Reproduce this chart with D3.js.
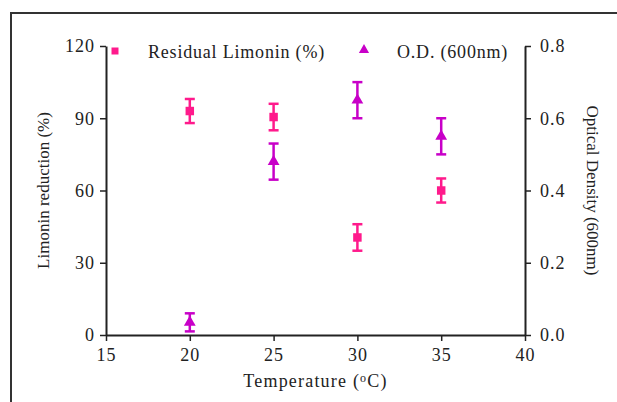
<!DOCTYPE html>
<html>
<head>
<meta charset="utf-8">
<script src="https://cdn.jsdelivr.net/npm/d3@7"></script>
<style>
  body { margin: 0; background: #fff; }
  svg text { font-family: "Liberation Serif", "Times New Roman", serif; fill: #222; }
</style>
</head>
<body>
<div id="chart"></div>
<script>
// temperatures (x) and the two series
const temps = [20, 25, 30, 35];
const limonin = [93, 90.5, 40.5, 60];
const limoninErr = [5, 5.5, 5.5, 5];
const od = [0.035, 0.48, 0.65, 0.55];
const odErr = [0.025, 0.05, 0.05, 0.05];

const xTicks = [15, 20, 25, 30, 35, 40];
const leftTicks = [0, 30, 60, 90, 120];
const rightTicks = [0, 0.2, 0.4, 0.6, 0.8];

const width = 617, height = 402;
const margin = { top: 46, right: 92, bottom: 67, left: 106 };
const pink = '#ff1a8c', purple = '#c800c8';

const svg = d3.select('#chart').append('svg')
  .attr('width', width)
  .attr('height', height);

// outer frame (runs past the right/bottom edge)
svg.append('rect')
  .attr('x', 11).attr('y', 13)
  .attr('width', 700).attr('height', 500)
  .attr('fill', 'none')
  .attr('stroke', '#333')
  .attr('stroke-width', 2);

const x = d3.scaleLinear().domain([15, 40]).range([margin.left, width - margin.right]);
const yL = d3.scaleLinear().domain([0, 120]).range([height - margin.bottom, margin.top]);
const yR = d3.scaleLinear().domain([0, 0.8]).range([height - margin.bottom, margin.top]);

function styleAxis(g) {
  g.attr('font-family', null);
  g.select('.domain').attr('stroke', '#222').attr('stroke-width', 2);
  g.selectAll('.tick line').attr('stroke', '#222').attr('stroke-width', 1.5);
  g.selectAll('.tick text')
    .attr('font-size', '18px')
    .attr('letter-spacing', '1px')
    .attr('fill', '#222');
}

svg.append('g')
  .attr('transform', `translate(0,${height - margin.bottom})`)
  .call(d3.axisBottom(x).tickValues(xTicks).tickSize(6).tickSizeOuter(0).tickPadding(7))
  .call(styleAxis);

svg.append('g')
  .attr('transform', `translate(${margin.left},0)`)
  .call(d3.axisLeft(yL).tickValues(leftTicks).tickSize(6).tickSizeOuter(0).tickPadding(5))
  .call(styleAxis);

svg.append('g')
  .attr('transform', `translate(${width - margin.right},0)`)
  .call(d3.axisRight(yR).tickValues(rightTicks).tickFormat(d3.format('.1f'))
    .tickSize(6).tickSizeOuter(0).tickPadding(9))
  .call(styleAxis);

// error bars
function errorBars(vals, errs, y, color) {
  const g = svg.append('g').attr('stroke', color).attr('stroke-width', 2.5);
  temps.forEach((t, i) => {
    const cx = x(t);
    const top = y(vals[i] + errs[i]), bot = y(vals[i] - errs[i]);
    g.append('line').attr('x1', cx).attr('x2', cx).attr('y1', top).attr('y2', bot);
    g.append('line').attr('x1', cx - 5).attr('x2', cx + 5).attr('y1', top).attr('y2', top);
    g.append('line').attr('x1', cx - 5).attr('x2', cx + 5).attr('y1', bot).attr('y2', bot);
  });
}
errorBars(limonin, limoninErr, yL, pink);
errorBars(od, odErr, yR, purple);

const square = d3.symbol().type(d3.symbolSquare).size(72);
const triangle = d3.symbol().type(d3.symbolTriangle).size(60);

svg.append('g').selectAll('path')
  .data(temps)
  .join('path')
  .attr('d', square)
  .attr('transform', (d, i) => `translate(${x(d)},${yL(limonin[i])})`)
  .attr('fill', pink);

svg.append('g').selectAll('path')
  .data(temps)
  .join('path')
  .attr('d', triangle)
  .attr('transform', (d, i) => `translate(${x(d)},${yR(od[i])})`)
  .attr('fill', purple);

// legend
const legend = svg.append('g');
legend.append('path').attr('d', d3.symbol().type(d3.symbolSquare).size(49))
  .attr('transform', 'translate(115,51)').attr('fill', pink);
legend.append('text').attr('x', 148).attr('y', 58)
  .attr('font-size', '18px').attr('letter-spacing', '0.8px')
  .text('Residual Limonin (%)');
legend.append('path').attr('d', d3.symbol().type(d3.symbolTriangle).size(45))
  .attr('transform', 'translate(364,50)').attr('fill', purple);
legend.append('text').attr('x', 397).attr('y', 58)
  .attr('font-size', '18px').attr('letter-spacing', '0.8px')
  .text('O.D. (600nm)');

// axis titles
const xTitle = svg.append('text')
  .attr('x', (x(15) + x(40)) / 2).attr('y', 387)
  .attr('text-anchor', 'middle')
  .attr('font-size', '18px').attr('letter-spacing', '1.2px');
xTitle.append('tspan').text('Temperature (');
xTitle.append('tspan').attr('font-size', '12px').attr('baseline-shift', '45%').text('o');
xTitle.append('tspan').text('C)');

svg.append('text')
  .attr('transform', `translate(49,${(yL(0) + yL(120)) / 2}) rotate(-90)`)
  .attr('text-anchor', 'middle')
  .attr('font-size', '17px')
  .text('Limonin reduction (%)');

svg.append('text')
  .attr('transform', `translate(587,${(yR(0) + yR(0.8)) / 2}) rotate(90)`)
  .attr('text-anchor', 'middle')
  .attr('font-size', '17px')
  .text('Optical Density (600nm)');
</script>
</body>
</html>
